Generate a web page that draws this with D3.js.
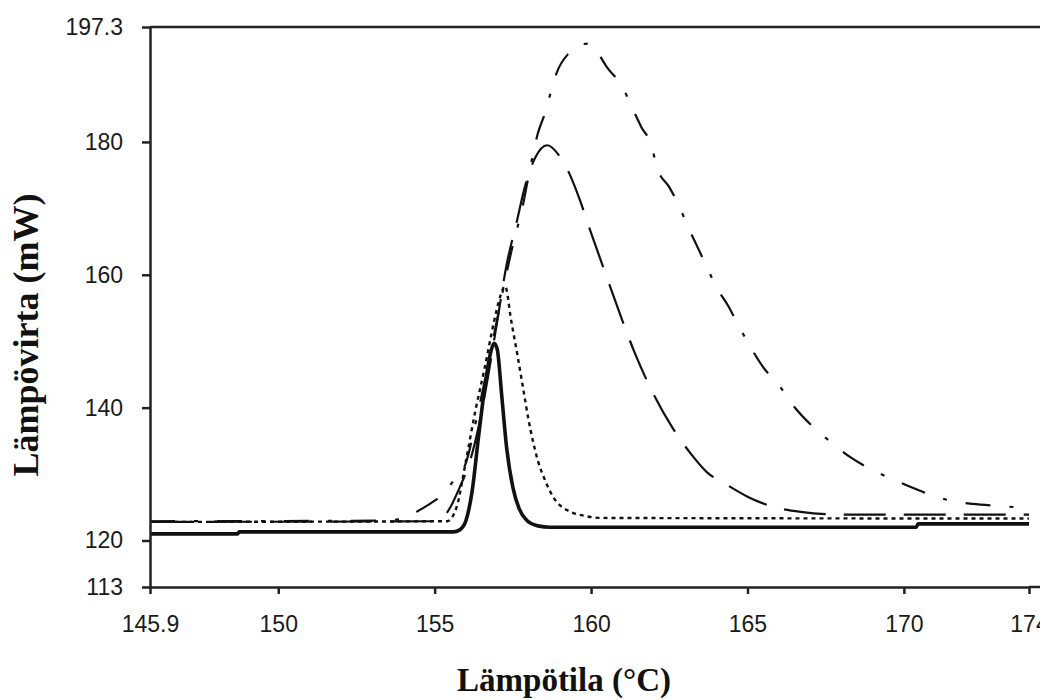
<!DOCTYPE html>
<html lang="en">
<head>
<meta charset="utf-8">
<title>Lämpövirta</title>
<script src="https://d3js.org/d3.v7.min.js"></script>
<style>
  body { margin: 0; background: #fff; }
  .tick text { font-family: "Liberation Sans", Arial, sans-serif; font-size: 23px; fill: #1a1a1a; }
  .title { font-family: "Liberation Serif", "Times New Roman", serif; font-weight: bold; fill: #111; }
</style>
</head>
<body>
<script>
// temperature (°C), heat flow (mW) pairs
var solidLine = [
  [145.9,121.0],[148.7,121.0],[148.75,121.3],[155.6,121.3],[155.8,121.6],[156.0,123.0],
  [156.2,127.5],[156.4,135.5],[156.6,143],[156.8,148.5],[156.9,149.7],[157.0,148.8],
  [157.15,141.5],[157.3,134],[157.5,128],[157.7,124.8],[157.95,123.0],[158.3,122.2],
  [158.7,122.0],[170.4,122.0],[170.45,122.5],[174.0,122.5]
];
var dottedLine = [
  [145.9,122.8],[155.4,122.9],[155.7,125],[156.0,132],[156.3,139.5],[156.6,146],
  [156.9,153],[157.1,156.8],[157.25,158.3],[157.45,153],[157.65,147.8],[157.85,142.3],
  [158.0,138.2],[158.15,134.8],[158.3,132.0],[158.5,129.4],[158.7,127.3],[158.9,125.8],
  [159.15,124.8],[159.4,124.2],[159.8,123.7],[160.3,123.4],[174.0,123.3]
];
var longDashLine = [
  [145.9,122.8],[155.0,122.9],[155.3,123.6],[155.5,125],[155.8,128],[156.1,131.5],
  [156.4,137],[156.7,144.5],[157.0,153],[157.3,161.5],[157.6,167.5],[157.9,173.5],
  [158.2,177.5],[158.6,179.5],[159.0,177.8],[159.3,175.3],[159.6,171.8],[160.0,166.3],
  [160.4,161],[160.9,154.4],[161.4,148.2],[162.0,142],[162.6,137],[163.2,133],
  [163.7,130.3],[164.3,128.5],[165.0,126.6],[165.8,125.1],[166.7,124.3],[168.0,123.9],
  [174.0,123.9]
];
var dashDotLine = [
  [145.9,122.9],[153.5,123.0],[154.0,123.4],[154.6,124.8],[155.0,126],[155.3,127.1],
  [155.6,129],[156.0,131.7],[156.3,137.5],[156.6,144],[156.9,151],[157.2,158],
  [157.5,164.5],[157.8,170],[158.05,176],[158.3,181.3],[158.53,184.4],[158.69,187.1],
  [158.9,190.4],[159.3,193.4],[159.6,194.5],[159.9,194.8],[160.2,193.5],[160.5,191.3],
  [161.0,188.3],[161.3,185.3],[161.6,182.3],[161.95,179.2],[162.1,176.2],[162.5,173.2],
  [162.8,170.5],[163.1,167.2],[163.4,164.2],[163.7,161.2],[164.0,158.2],[164.4,155.2],
  [164.7,152.5],[165.1,149.1],[165.5,146.1],[166.0,143.4],[166.5,140.1],[167.1,137.1],
  [167.7,134.7],[168.3,132.5],[169.0,130.6],[169.7,129.1],[170.3,127.9],[170.9,126.8],
  [171.5,126.0],[172.2,125.5],[173.0,125.2],[174.0,124.9]
];

var xTicks = [145.9, 150, 155, 160, 165, 170, 174];
var yTicks = [113, 120, 140, 160, 180, 197.3];
var xTitle = "Lämpötila (°C)";
var yTitle = "Lämpövirta (mW)";

var width = 1040, height = 700;

var svg = d3.select("body").append("svg")
    .attr("width", width)
    .attr("height", height);

svg.append("rect").attr("width", width).attr("height", height).attr("fill", "#fff");

var x = d3.scaleLinear().domain([145.9, 174]).range([150, 1029]);
var y = d3.scaleLinear().domain([113, 197.3]).range([587, 27]);

var line = d3.line()
    .x(function(d) { return x(d[0]); })
    .y(function(d) { return y(d[1]); })
    .curve(d3.curveMonotoneX);

var series = [
  { data: dashDotLine, width: 2.2, dash: "25,19,4,19" },
  { data: longDashLine, width: 2.2, dash: "42,18" },
  { data: dottedLine, width: 2.4, dash: "4,4" },
  { data: solidLine, width: 3.6, dash: null }
];

svg.append("g").selectAll("path")
    .data(series)
    .enter().append("path")
    .attr("d", function(d) { return line(d.data); })
    .attr("fill", "none")
    .attr("stroke", "#111")
    .attr("stroke-width", function(d) { return d.width; })
    .attr("stroke-dasharray", function(d) { return d.dash; })
    .attr("stroke-linecap", "butt");

// axes
svg.append("g")
    .attr("transform", "translate(0,587)")
    .call(d3.axisBottom(x)
      .tickValues(xTicks)
      .tickSize(7)
      .tickSizeOuter(0)
      .tickPadding(22)
      .tickFormat(function(d) { return d; }));

svg.append("g")
    .attr("transform", "translate(150,0)")
    .call(d3.axisLeft(y)
      .tickValues(yTicks)
      .tickSize(8)
      .tickSizeOuter(0)
      .tickPadding(19)
      .tickFormat(function(d) { return d; }));

svg.selectAll(".domain").attr("stroke", "#222").attr("stroke-width", 2.5);
svg.selectAll(".tick line").attr("stroke", "#222").attr("stroke-width", 2.5);

// axis line runs on to the right edge, plus the top frame line
svg.append("line")
    .attr("x1", x(174)).attr("x2", width)
    .attr("y1", y(113)).attr("y2", y(113))
    .attr("stroke", "#222").attr("stroke-width", 2.5);
svg.append("line")
    .attr("x1", x(145.9)).attr("x2", width)
    .attr("y1", y(197.3)).attr("y2", y(197.3))
    .attr("stroke", "#222").attr("stroke-width", 2.5);

svg.append("text")
    .attr("class", "title")
    .attr("x", 564)
    .attr("y", 691)
    .attr("font-size", 33)
    .attr("text-anchor", "middle")
    .text(xTitle);

svg.append("text")
    .attr("class", "title")
    .attr("transform", "translate(38,335) rotate(-90)")
    .attr("font-size", 36)
    .attr("text-anchor", "middle")
    .text(yTitle);
</script>
</body>
</html>
